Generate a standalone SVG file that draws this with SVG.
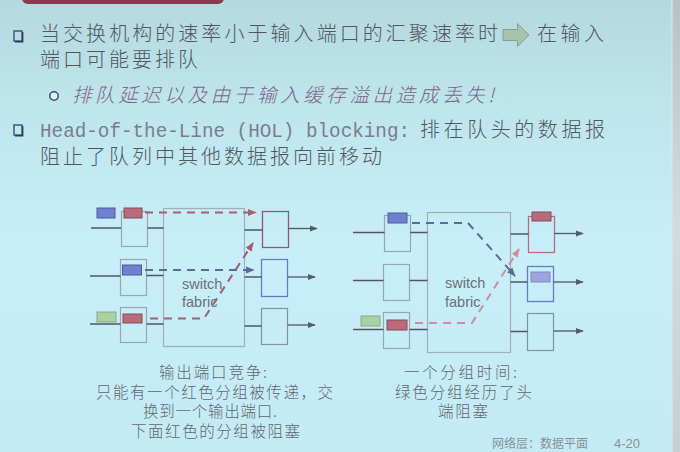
<svg xmlns="http://www.w3.org/2000/svg" width="680" height="452" viewBox="0 0 680 452">
  <defs>
    <linearGradient id="bg" x1="0" y1="0" x2="0" y2="1">
      <stop offset="0" stop-color="#b4d9df"/>
      <stop offset="0.22" stop-color="#bee4ec"/>
      <stop offset="0.55" stop-color="#c8eff9"/>
      <stop offset="1" stop-color="#c4ebf5"/>
    </linearGradient>
    <linearGradient id="strip" x1="0" y1="0" x2="0" y2="1">
      <stop offset="0" stop-color="#b7c2c6"/>
      <stop offset="0.5" stop-color="#d2dce0"/>
      <stop offset="1" stop-color="#c6d0d4"/>
    </linearGradient>
    <marker id="ahLine" viewBox="0 0 10 10" refX="9" refY="5" markerWidth="8" markerHeight="8" markerUnits="userSpaceOnUse" orient="auto">
      <path d="M0 1 L10 5 L0 9 Z" fill="#555d66"/>
    </marker>
    <marker id="ahRed" viewBox="0 0 10 10" refX="9" refY="5" markerWidth="9" markerHeight="9" markerUnits="userSpaceOnUse" orient="auto">
      <path d="M0 1 L10 5 L0 9 Z" fill="#a26070"/>
    </marker>
    <marker id="ahBlue" viewBox="0 0 10 10" refX="9" refY="5" markerWidth="9" markerHeight="9" markerUnits="userSpaceOnUse" orient="auto">
      <path d="M0 1 L10 5 L0 9 Z" fill="#5c6a98"/>
    </marker>
    <marker id="ahPink" viewBox="0 0 10 10" refX="9" refY="5" markerWidth="9" markerHeight="9" markerUnits="userSpaceOnUse" orient="auto">
      <path d="M0 1 L10 5 L0 9 Z" fill="#cf8d9e"/>
    </marker>
  </defs>
  <style>
    .cjk { font-family: "Noto Sans CJK SC", "Noto Sans", sans-serif; font-weight: 300; fill: #52575e; }
    .main { font-size: 20px; }
    .note { font-style: italic; fill: #7d6388; font-size: 19.5px; }
    .mono { font-family: "Liberation Mono", "DejaVu Sans Mono", monospace; font-size: 20px; fill: #7a7e8a; }
    .cap { font-family: "Noto Sans CJK SC", "Noto Sans", sans-serif; font-weight: 300; font-size: 15.5px; fill: #62676e; }
    .sf { font-family: "Liberation Sans", Arial, sans-serif; font-size: 14.5px; fill: #6a7078; }
    .foot { font-family: "Noto Sans CJK SC", "Noto Sans", sans-serif; font-size: 12px; fill: #8a9098; }
    .box { fill: none; stroke: #9aa7b2; stroke-width: 1.2; }
    .fab { fill: none; stroke: #a3aeb8; stroke-width: 1.2; }
    .oRed { fill: none; stroke: #8e5a7a; stroke-width: 1.3; }
    .oRed2 { fill: none; stroke: #b0707f; stroke-width: 1.3; }
    .oBlue { fill: none; stroke: #6a7cc0; stroke-width: 1.3; }
    .oGray { fill: none; stroke: #8393a6; stroke-width: 1.2; }
    .ln { fill: none; stroke: #4f575f; stroke-width: 1.5; }
    .arr { fill: none; stroke: #4f575f; stroke-width: 1.3; marker-end: url(#ahLine); }
    .pBlue { fill: #6f80d0; stroke: #4c5b9e; stroke-width: 1; }
    .pBlueL { fill: #9ea3e2; stroke: #8088c0; stroke-width: 1; }
    .pRed { fill: #b86b7a; stroke: #874b5a; stroke-width: 1; }
    .pGreen { fill: #a9d1a2; stroke: #8aa987; stroke-width: 1; }
    .dRed { fill: none; stroke: #a26070; stroke-width: 2; stroke-dasharray: 8 6; marker-end: url(#ahRed); }
    .dBlue { fill: none; stroke: #5c6a98; stroke-width: 2; stroke-dasharray: 8 6; marker-end: url(#ahBlue); }
    .dPink { fill: none; stroke: #cf8d9e; stroke-width: 2; stroke-dasharray: 8 6; marker-end: url(#ahPink); }
  </style>

  <!-- slide background -->
  <rect x="0" y="0" width="680" height="452" fill="url(#bg)"/>
  <rect x="672" y="0" width="8" height="452" fill="url(#strip)"/>
  <line x1="672" y1="0" x2="672" y2="452" stroke="#dde8ec" stroke-width="1"/>
  <rect x="22" y="-8" width="202" height="12" rx="6" fill="#8a3b4c"/>

  <!-- bullet text -->
  <g id="bullet1">
    <rect x="14" y="31" width="8" height="10" fill="none" stroke="#3f4a7e" stroke-width="1.4"/>
    <path d="M22.7 32 V41.7 H15" fill="none" stroke="#2f3866" stroke-width="1.4"/>
    <text class="cjk main" x="40" y="41" textLength="458" lengthAdjust="spacing">当交换机构的速率小于输入端口的汇聚速率时</text>
    <path d="M503 29.5 H517.5 V23.5 L529 35 L517.5 46.5 V40.5 H503 Z" fill="#a8c3ac" stroke="#8c9e92" stroke-width="1"/>
    <text class="cjk main" x="537" y="41" textLength="67" lengthAdjust="spacing">在输入</text>
    <text class="cjk main" x="40" y="67" textLength="158" lengthAdjust="spacing">端口可能要排队</text>
  </g>
  <g id="subbullet">
    <circle cx="54" cy="96" r="4.2" fill="#dff2f8" stroke="#3f4a7e" stroke-width="1.5"/>
    <text class="cjk note" x="72" y="102" textLength="422" lengthAdjust="spacing">排队延迟以及由于输入缓存溢出造成丢失!</text>
  </g>
  <g id="bullet2">
    <rect x="14" y="125" width="8" height="10" fill="none" stroke="#3f4a7e" stroke-width="1.4"/>
    <path d="M22.7 126 V135.7 H15" fill="none" stroke="#2f3866" stroke-width="1.4"/>
    <text class="mono" x="40" y="137" textLength="370" lengthAdjust="spacingAndGlyphs">Head-of-the-Line (HOL) blocking:</text>
    <text class="cjk main" x="420" y="137" textLength="185" lengthAdjust="spacing">排在队头的数据报</text>
    <text class="cjk main" x="40" y="164" textLength="342" lengthAdjust="spacing">阻止了队列中其他数据报向前移动</text>
  </g>

  <!-- left switch: output port contention -->
  <g id="left-fabric">
    <rect class="fab" x="163.5" y="208.5" width="81" height="138"/>
    <text class="sf" x="182" y="289">switch</text>
    <text class="sf" x="182" y="307">fabric</text>
  </g>
  <g id="left-in1">
    <rect class="box" x="121.5" y="211.5" width="26" height="35"/>
    <rect class="pBlue" x="97" y="208" width="18" height="10"/>
    <rect class="pRed" x="124" y="208" width="18" height="10"/>
  </g>
  <g id="left-in2">
    <rect class="box" x="120.5" y="259.5" width="26" height="36"/>
    <rect class="pBlue" x="122.5" y="265" width="19" height="10"/>
  </g>
  <g id="left-in3">
    <rect class="box" x="120.5" y="307.5" width="26" height="35"/>
    <rect class="pGreen" x="97" y="312" width="19" height="10"/>
    <rect class="pRed" x="123" y="314" width="19" height="9"/>
  </g>
  <g id="left-out1"><rect class="oRed" x="262.5" y="211.5" width="26" height="36"/></g>
  <g id="left-out2"><rect class="oBlue" x="261.5" y="259.5" width="26" height="37"/></g>
  <g id="left-out3"><rect class="oGray" x="261.5" y="308.5" width="26" height="36"/></g>

  <!-- right switch: head-of-the-line blocking -->
  <g id="right-fabric">
    <rect class="fab" x="427.5" y="212.5" width="83" height="140"/>
    <text class="sf" x="445" y="288">switch</text>
    <text class="sf" x="445" y="307">fabric</text>
  </g>
  <g id="right-in1">
    <rect class="box" x="384.5" y="215.5" width="26" height="36"/>
    <rect class="pBlue" x="388" y="213" width="19" height="10"/>
  </g>
  <g id="right-in2"><rect class="box" x="383.5" y="264.5" width="26" height="36"/></g>
  <g id="right-in3">
    <rect class="box" x="383.5" y="312.5" width="26" height="36"/>
    <rect class="pGreen" x="361" y="316" width="19" height="10"/>
    <rect class="pRed" x="387" y="320" width="20" height="10"/>
  </g>
  <g id="right-out1">
    <rect class="oRed2" x="528.5" y="216.5" width="26" height="36"/>
    <rect class="pRed" x="532" y="212" width="19" height="9"/>
  </g>
  <g id="right-out2">
    <rect class="oBlue" x="527.5" y="266.5" width="26" height="35"/>
    <rect class="pBlueL" x="531" y="272" width="19" height="10"/>
  </g>
  <g id="right-out3"><rect class="oGray" x="527.5" y="313.5" width="26" height="37"/></g>

  <g id="connectors">
    <!-- left links -->
    <path class="ln" d="M91 228 H121 M147.5 228 H163.5"/>
    <path class="ln" d="M90 276 H120.5 M146.5 275.5 H163.5"/>
    <path class="ln" d="M90 324 H120.5 M146.5 324 H163.5"/>
    <path class="ln" d="M244.5 230 H262.5"/>
    <path class="ln" d="M244.5 277 H261.5"/>
    <path class="ln" d="M244.5 326 H261.5"/>
    <path class="arr" d="M288.5 228.5 H317"/>
    <path class="arr" d="M287.5 277 H315"/>
    <path class="arr" d="M287.5 325 H315"/>
    <path class="dRed" d="M145 212.5 H256"/>
    <path class="dBlue" d="M145 270 H254"/>
    <path class="dRed" d="M150 318.5 H204 L253 243"/>
    <!-- right links -->
    <path class="ln" d="M353 232.5 H384.5 M410.5 232.5 H427.5"/>
    <path class="ln" d="M353 280.5 H383.5 M409.5 280.5 H427.5"/>
    <path class="ln" d="M353 329.5 H383.5 M409.5 329.5 H427.5"/>
    <path class="ln" d="M510.5 234 H528.5"/>
    <path class="ln" d="M510.5 282 H527.5"/>
    <path class="ln" d="M510.5 331.5 H527.5"/>
    <path class="arr" d="M554.5 233.5 H583"/>
    <path class="arr" d="M553.5 282 H583"/>
    <path class="arr" d="M553.5 331 H583"/>
    <path class="dBlue" d="M412 223 H468 L515 276"/>
    <path class="dPink" d="M415 323 H472 L519 249"/>
  </g>

  <!-- captions -->
  <g id="caption-left">
    <text class="cap" x="159" y="378" textLength="108" lengthAdjust="spacing">输出端口竞争:</text>
    <text class="cap" x="96" y="398" textLength="237" lengthAdjust="spacing">只能有一个红色分组被传递，交</text>
    <text class="cap" x="143" y="417" textLength="134" lengthAdjust="spacing">换到一个输出端口.</text>
    <text class="cap" x="131" y="437" textLength="169" lengthAdjust="spacing">下面红色的分组被阻塞</text>
  </g>
  <g id="caption-right">
    <text class="cap" x="404" y="378" textLength="113" lengthAdjust="spacing">一个分组时间:</text>
    <text class="cap" x="395" y="398" textLength="137" lengthAdjust="spacing">绿色分组经历了头</text>
    <text class="cap" x="438" y="417" textLength="50" lengthAdjust="spacing">端阻塞</text>
  </g>
  <g id="footer">
    <text class="foot" x="492" y="448">网络层：数据平面</text>
    <text class="foot" x="614" y="448" style="font-family:'Liberation Sans',Arial,sans-serif;font-size:13px">4-20</text>
  </g>
</svg>
